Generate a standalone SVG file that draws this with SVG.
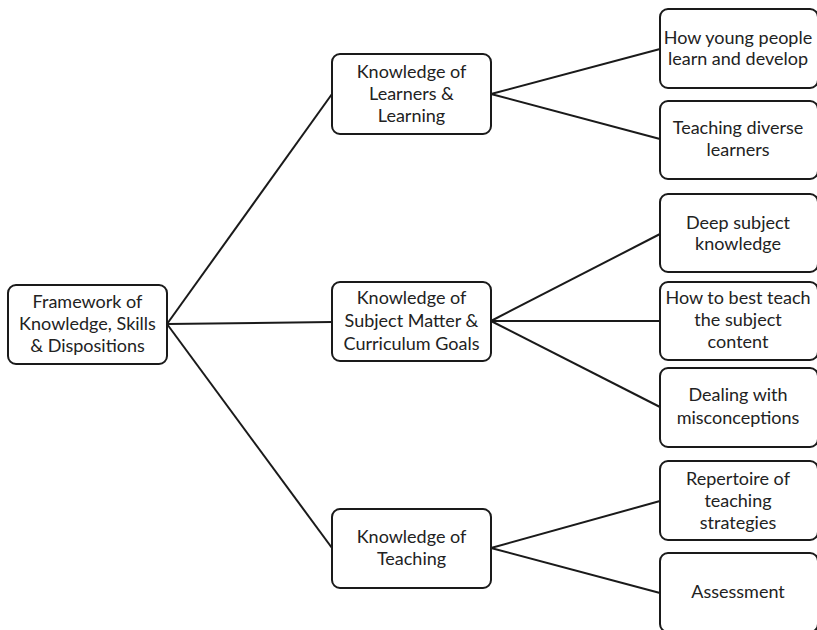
<svg xmlns="http://www.w3.org/2000/svg" width="817" height="630" viewBox="0 0 817 630">
<style>
.box{fill:#fff;stroke:#1a1a1a;stroke-width:2}
.lbl{font-family:Lato,"Liberation Sans",sans-serif;font-size:18px;fill:#222;text-anchor:middle}
.conn{stroke:#1a1a1a;stroke-width:2;fill:none}
</style>
<rect width="817" height="630" fill="#fff"/>
<g id="connectors">
<line class="conn" x1="167" y1="324" x2="332" y2="94"/>
<line class="conn" x1="167" y1="324" x2="332" y2="322"/>
<line class="conn" x1="167" y1="324" x2="332" y2="548"/>
<line class="conn" x1="491" y1="94" x2="660" y2="49"/>
<line class="conn" x1="491" y1="94" x2="660" y2="139"/>
<line class="conn" x1="491" y1="321" x2="660" y2="234"/>
<line class="conn" x1="491" y1="321" x2="660" y2="321"/>
<line class="conn" x1="491" y1="321" x2="660" y2="407"/>
<line class="conn" x1="491" y1="548" x2="660" y2="501"/>
<line class="conn" x1="491" y1="548" x2="660" y2="593"/>
</g>
<g id="root">
<rect class="box" x="8" y="285" width="159" height="79" rx="8"/>
<text class="lbl" x="87.5"><tspan x="87.5" y="308">Framework of</tspan><tspan x="87.5" y="330">Knowledge, Skills</tspan><tspan x="87.5" y="352">&amp; Dispositions</tspan></text>
</g>
<g id="learners">
<rect class="box" x="332" y="54" width="159" height="80" rx="8"/>
<text class="lbl"><tspan x="411.5" y="78">Knowledge of</tspan><tspan x="411.5" y="100">Learners &amp;</tspan><tspan x="411.5" y="122">Learning</tspan></text>
</g>
<g id="subject">
<rect class="box" x="332" y="282" width="159" height="79" rx="8"/>
<text class="lbl"><tspan x="411.5" y="304">Knowledge of</tspan><tspan x="411.5" y="327">Subject Matter &amp;</tspan><tspan x="411.5" y="350">Curriculum Goals</tspan></text>
</g>
<g id="teaching">
<rect class="box" x="332" y="509" width="159" height="79" rx="8"/>
<text class="lbl"><tspan x="411.5" y="543">Knowledge of</tspan><tspan x="411.5" y="565">Teaching</tspan></text>
</g>
<g id="leaf-young">
<rect class="box" x="660" y="9" width="158" height="79" rx="8"/>
<text class="lbl"><tspan x="738" y="44">How young people</tspan><tspan x="738" y="65">learn and develop</tspan></text>
</g>
<g id="leaf-diverse">
<rect class="box" x="660" y="101" width="158" height="78" rx="8"/>
<text class="lbl"><tspan x="738" y="134">Teaching diverse</tspan><tspan x="738" y="156">learners</tspan></text>
</g>
<g id="leaf-deep">
<rect class="box" x="660" y="194" width="158" height="78" rx="8"/>
<text class="lbl"><tspan x="738" y="229">Deep subject</tspan><tspan x="738" y="250">knowledge</tspan></text>
</g>
<g id="leaf-howto">
<rect class="box" x="660" y="282" width="158" height="78" rx="8"/>
<text class="lbl"><tspan x="738" y="304">How to best teach</tspan><tspan x="738" y="326">the subject</tspan><tspan x="738" y="348">content</tspan></text>
</g>
<g id="leaf-dealing">
<rect class="box" x="660" y="368" width="158" height="79" rx="8"/>
<text class="lbl"><tspan x="738" y="401">Dealing with</tspan><tspan x="738" y="424">misconceptions</tspan></text>
</g>
<g id="leaf-repertoire">
<rect class="box" x="660" y="461" width="158" height="79" rx="8"/>
<text class="lbl"><tspan x="738" y="485">Repertoire of</tspan><tspan x="738" y="507">teaching</tspan><tspan x="738" y="529">strategies</tspan></text>
</g>
<g id="leaf-assessment">
<rect class="box" x="660" y="553" width="158" height="79" rx="8"/>
<text class="lbl"><tspan x="738" y="598">Assessment</tspan></text>
</g>
</svg>
